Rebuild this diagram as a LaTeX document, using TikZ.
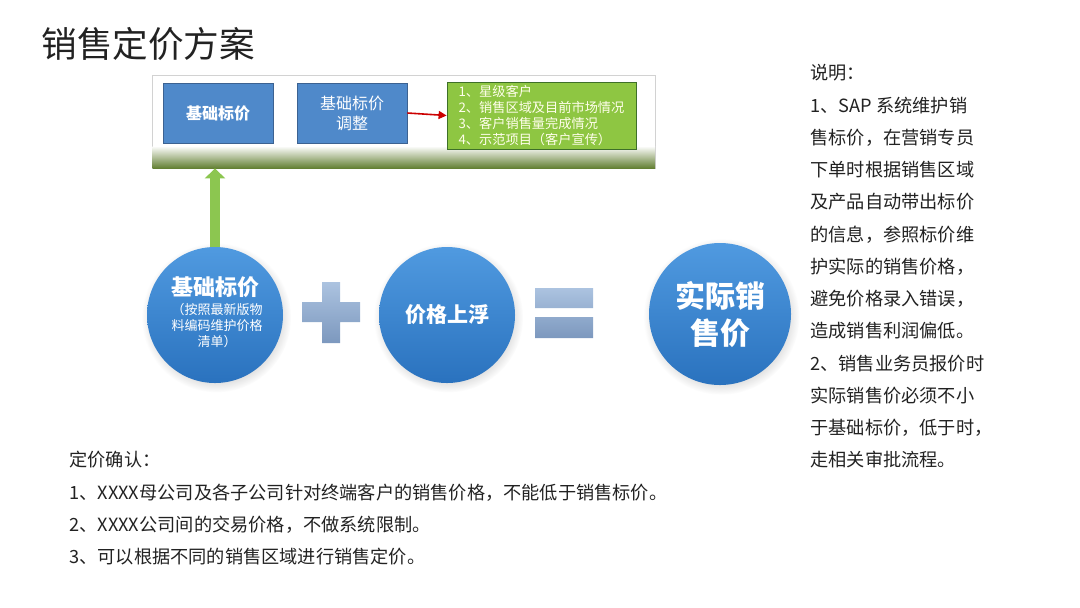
\documentclass[tikz,border=0pt]{standalone}
\usepackage{fontspec}
\setmainfont{Noto Sans CJK SC}
\usetikzlibrary{arrows.meta,shadows}
\definecolor{boxblue}{RGB}{79,137,202}
\definecolor{boxedge}{RGB}{60,98,145}
\definecolor{ballhi}{RGB}{80,154,224}
\definecolor{balllo}{RGB}{42,114,190}
\definecolor{factgreen}{RGB}{142,198,66}
\definecolor{factedge}{RGB}{62,112,40}
\definecolor{signhi}{RGB}{172,195,224}
\definecolor{signlo}{RGB}{124,152,190}
\definecolor{bandolive}{RGB}{100,128,52}
\definecolor{txt}{RGB}{34,34,34}

\begin{document}
\begin{tikzpicture}[
    x=0.5pt, y=-0.5pt,
    panelbox/.style={draw=gray!35, fill=white, minimum width=251.5pt, minimum height=46.5pt, inner sep=0pt},
    bluebox/.style={draw=boxedge, fill=boxblue, text=white, minimum width=55pt, minimum height=30pt, align=center, inner sep=0pt},
    ball/.style={circle, top color=ballhi, bottom color=balllo, text=white, inner sep=0pt, align=center,
      circular drop shadow={shadow xshift=0.6pt, shadow yshift=-1.2pt, opacity=0.25}},
    note/.style={anchor=west, inner sep=0pt, text=txt, font=\fontsize{9.1}{11}\selectfont},
    uparrow/.style={line width=5pt, draw={rgb,255:red,140;green,198;blue,80}, -{Triangle[width=10pt,length=5pt]}}
  ]
    \useasboundingbox (0,0) rectangle (1080,607);

    % title
    \node[anchor=west, inner sep=0pt, text=txt, font=\fontsize{17.8}{20}\selectfont] (title) at (41,44) {销售定价方案};

    % top panel
    \node[panelbox] (panel) at (403.5,121.5) {};
    \shade[top color=white, bottom color=bandolive] (152.5,146) rectangle (655,168);
    \node[bluebox, font=\fontsize{8}{10}\selectfont\bfseries] (base) at (218,113) {基础标价};
    \node[bluebox, font=\fontsize{8}{10}\selectfont] (adjust) at (352,113) {基础标价\\调整};
    \node[draw=factedge, fill=factgreen, text=white!92!yellow, minimum width=94.5pt, minimum height=33.5pt,
      align=left, inner sep=0pt, font=\fontsize{6.6}{8}\selectfont] (factors) at (541.5,115.5)
      {1、星级客户\\2、销售区域及目前市场情况\\3、客户销售量完成情况\\4、示范项目（客户宣传）};
    \draw[-{Triangle[width=4pt,length=4pt]}, line width=0.8pt, red!80!black] (adjust.east) -- (factors.west);

    % pricing formula
    \node[ball, minimum size=68pt] (list) at (215,315) {};
    \node[text=white, inner sep=0pt, font=\fontsize{11}{13}\selectfont\bfseries] (listname) at (215,287) {基础标价};
    \node[text=white, inner sep=0pt, align=center, font=\fontsize{6.5}{8}\selectfont] (listnote) at (217,326)
      {（按照最新版物\\料编码维护价格\\清单）};
    \shade[top color=signhi, bottom color=signlo] (322,282) rectangle (340,343) (302,302) rectangle (360,322);
    \node[ball, minimum size=68pt, font=\fontsize{10.5}{12}\selectfont\bfseries] (float) at (447,315) {价格上浮};
    \shade[top color=signhi, bottom color=signlo] (535,288) rectangle (593,308) (535,317) rectangle (593,338);
    \node[ball, minimum size=71pt, font=\fontsize{15}{18.5}\selectfont\bfseries] (actual) at (720,314) {实际销\\售价};
    \draw[uparrow] (list.north) -- (list.north |- panel.south);

    % notes on the right
    \node[note] (n1)  at (810,73)     {说明：};
    \node[note] (n2)  at (810,105.25) {1、SAP 系统维护销};
    \node[note] (n3)  at (810,137.5)  {售标价，在营销专员};
    \node[note] (n4)  at (810,169.75) {下单时根据销售区域};
    \node[note] (n5)  at (810,202)    {及产品自动带出标价};
    \node[note] (n6)  at (810,234.25) {的信息，参照标价维};
    \node[note] (n7)  at (810,266.5)  {护实际的销售价格，};
    \node[note] (n8)  at (810,298.75) {避免价格录入错误，};
    \node[note] (n9)  at (810,331)    {造成销售利润偏低。};
    \node[note] (n10) at (810,363.25) {2、销售业务员报价时};
    \node[note] (n11) at (810,395.5)  {实际销售价必须不小};
    \node[note] (n12) at (810,427.75) {于基础标价，低于时，};
    \node[note] (n13) at (810,460)    {走相关审批流程。};

    % confirmation notes
    \node[note] (c0) at (69,460) {定价确认：};
    \node[note] (c1) at (69,493) {1、XXXX母公司及各子公司针对终端客户的销售价格，不能低于销售标价。};
    \node[note] (c2) at (69,525) {2、XXXX公司间的交易价格，不做系统限制。};
    \node[note] (c3) at (69,557) {3、可以根据不同的销售区域进行销售定价。};
  \end{tikzpicture}
\end{document}
